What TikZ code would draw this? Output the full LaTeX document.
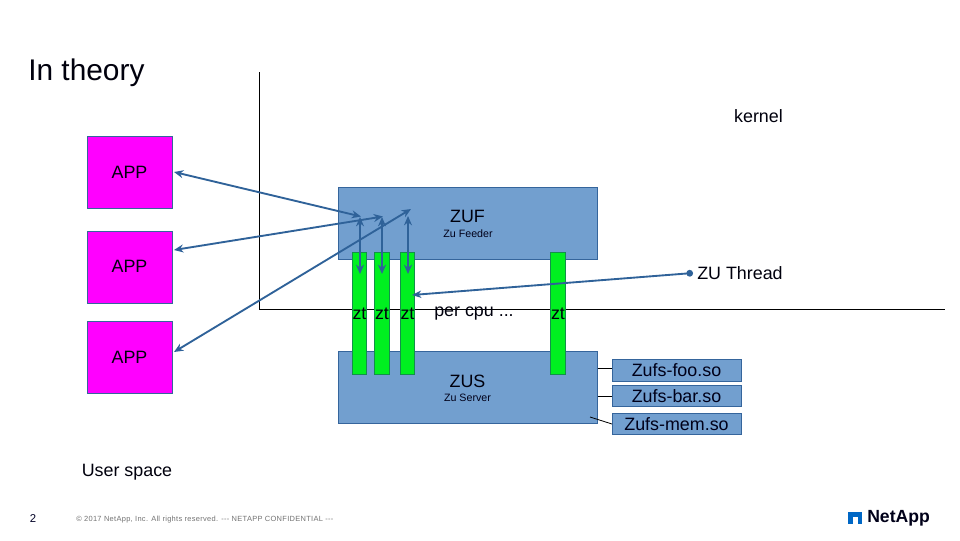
\documentclass[tikz,border=0pt]{standalone}
\usepackage{fontspec}
\setmainfont{Liberation Sans}
\usetikzlibrary{arrows.meta}
\definecolor{bluefill}{HTML}{729FCF}
\definecolor{blueline}{HTML}{35659C}
\definecolor{arrowblue}{HTML}{2F6299}
\definecolor{ztgreen}{HTML}{00F020}
\definecolor{ztline}{HTML}{12904A}
\definecolor{appmag}{HTML}{FF00FF}
\definecolor{logoblue}{HTML}{0067C5}
\tikzset{
  px/.style={x=0.75pt,y=-0.75pt},
  lbl/.style={inner sep=0pt,font=\fontsize{13.4}{15}\selectfont,text=black!95!blue},
  small/.style={inner sep=0pt,font=\fontsize{8}{10}\selectfont,text=black!90!blue},
  box/.style={draw=blueline,line width=0.6pt,inner sep=0pt,outer sep=0pt},
  appbox/.style={box,fill=appmag,minimum width=63.75pt,minimum height=54pt},
  srvbox/.style={box,fill=bluefill,minimum width=194.25pt,minimum height=54pt},
  ztbox/.style={draw=ztline,line width=0.6pt,fill=ztgreen,inner sep=0pt,outer sep=0pt,minimum width=10.9pt,minimum height=91.5pt},
  sobox/.style={box,fill=bluefill,minimum width=96.75pt,minimum height=16.2pt,font=\fontsize{13.4}{15}\selectfont,text=black!90!blue},
  axis/.style={draw=black,line width=0.6pt},
  link/.style={draw=black,line width=0.6pt},
  biarrow/.style={draw=arrowblue,line width=1.4pt,{Stealth[length=7pt,width=6pt]}-{Stealth[length=7pt,width=6pt]}},
  callout/.style={draw=arrowblue,line width=1.4pt,{Stealth[length=7pt,width=5.5pt]}-{Circle[length=5pt]}},
}
\begin{document}
\begin{tikzpicture}[px]
\useasboundingbox (0,0) rectangle (960,540);
\fill[white] (0,0) rectangle (960,540);
% axes
\coordinate (axtop) at (259,72);
\coordinate (axcorner) at (259,309);
\coordinate (axright) at (945,309);
\draw[axis] (axtop) -- (axcorner) -- (axright);
% boxes
\node[appbox] (app1) at (129.5,172) {};
\node[appbox] (app2) at (129.5,267) {};
\node[appbox] (app3) at (129.5,357.5) {};
\node[srvbox] (zuf) at (467.5,223) {};
\node[srvbox] (zus) at (467.5,387) {};
\node[ztbox] (zt1) at (359.5,313) {};
\node[ztbox] (zt2) at (382,313) {};
\node[ztbox] (zt3) at (407.5,313) {};
\node[ztbox] (zt4) at (558,313) {};
\node[sobox] (foo) at (676.5,370.5) {Zufs-foo.so};
\node[sobox] (bar) at (676.5,396) {Zufs-bar.so};
\node[sobox] (mem) at (676.5,424) {Zufs-mem.so};
% box captions
\node[lbl] (t1) at (129.5,172.5) {APP};
\node[lbl] (t2) at (129.5,266.5) {APP};
\node[lbl] (t3) at (129.5,357.5) {APP};
\node[lbl] (tzuf) at (467.5,216.5) {ZUF};
\node[small] (tzuf2) at (468,234) {Zu Feeder};
\node[lbl] (tzus) at (467.5,381.5) {ZUS};
\node[small] (tzus2) at (467.5,398) {Zu Server};
\node[lbl] (z1) at (359.5,314) {zt};
\node[lbl] (z2) at (382,314) {zt};
\node[lbl] (z3) at (407.5,314) {zt};
\node[lbl] (z4) at (558,314) {zt};
\node[lbl] (cpu) at (474,314) {per cpu ...};
\node[lbl,anchor=west] (zuthread) at (697,273.5) {ZU Thread};
\node[lbl] (kernel) at (758.5,116) {kernel};
\node[lbl] (user) at (127,472) {User space};
\node[inner sep=0pt,anchor=west,font=\fontsize{22.4}{26}\selectfont,text=black!95!blue] (title) at (28,73) {In theory};
\node[inner sep=0pt,font=\fontsize{8.5}{10}\selectfont,text=black!85!blue] (page) at (33,518.5) {2};
\node[inner sep=0pt,anchor=west,text=black!55,font=\addfontfeature{LetterSpace=4}\fontsize{5.6}{8}\selectfont] (copy) at (76,520) {© 2017 NetApp, Inc. All rights reserved. {-}{-}{-} NETAPP CONFIDENTIAL {-}{-}{-}};
% connectors
\coordinate (a1) at (361,216.5);
\coordinate (a2) at (383,216.5);
\coordinate (a3) at (411,209);
\coordinate (v1a) at (360,217);
\coordinate (v1b) at (360,274);
\coordinate (v2a) at (382,217);
\coordinate (v2b) at (382,274);
\coordinate (v3a) at (408,216);
\coordinate (v3b) at (408,274);
\coordinate (d1) at (174,172);
\coordinate (d2) at (174,250);
\coordinate (d3) at (174,352);
\draw[biarrow] (d1) -- (a1);
\draw[biarrow] (d2) -- (a2);
\draw[biarrow] (d3) -- (a3);
\draw[biarrow] (v1a) -- (v1b);
\draw[biarrow] (v2a) -- (v2b);
\draw[biarrow] (v3a) -- (v3b);
\coordinate (ct) at (412,295);
\coordinate (cs) at (693,273);
\draw[callout] (ct) -- (cs);
\coordinate (l1) at (597.5,368);
\coordinate (l2) at (597.5,396);
\coordinate (l3) at (590,417);
\draw[link] (l1) -- (foo.west |- l1);
\draw[link] (l2) -- (bar.west |- l2);
\draw[link] (l3) -- (mem.west);
% logo
\fill[logoblue] (848,512) rectangle (862,524);
\fill[white] (852.5,516.5) rectangle (857.5,524);
\node[inner sep=0pt,anchor=west,text=black!90!blue,font=\bfseries\fontsize{13.2}{14}\selectfont] (logo) at (867,518) {NetApp};
\end{tikzpicture}
\end{document}
